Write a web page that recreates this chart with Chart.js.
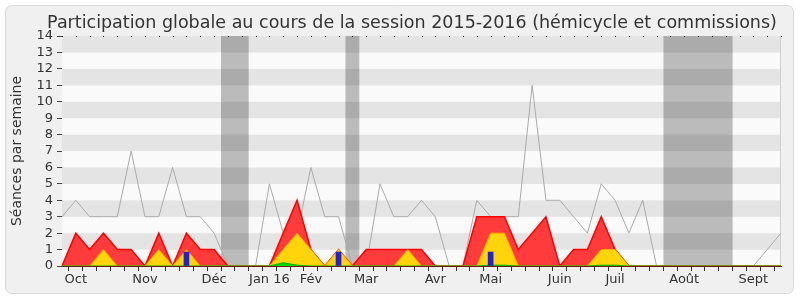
<!DOCTYPE html>
<html>
<head>
<meta charset="utf-8">
<script src="https://cdn.jsdelivr.net/npm/chart.js@4"></script>
<style>
  body { margin: 0; background: #fff; }
  #wrap { width: 800px; height: 300px; }
</style>
</head>
<body>
<div id="wrap"><canvas id="participation" width="800" height="300"></canvas></div>
<script>
// semaines de la session 2015-2016 (53 semaines)
const semaines = ['', 'Oct', '', '', '', '', 'Nov', '', '', '', '', 'Déc', '', '', '',
  'Jan 16', '', '', 'Fév', '', '', '', 'Mar', '', '', '', '', 'Avr', '', '', '',
  'Mai', '', '', '', '', 'Juin', '', '', '', 'Juil', '', '', '', '', 'Août', '', '', '', '',
  'Sept', '', ''];

const mediane = [3, 4, 3, 3, 3, 7, 3, 3, 6, 3, 3, 2, 0, 0, 0, 5, 2, 2, 6, 3, 3, 0, 0, 5, 3, 3, 4, 3,
  0, 0, 4, 3, 3, 3, 11, 4, 4, 3, 2, 5, 4, 2, 4, 0, 0, 0, 0, 0, 0, 0, 0, 1, 2];
const commission = [0, 2, 1, 2, 1, 1, 0, 2, 0, 2, 1, 1, 0, 0, 0, 0, 2, 4, 1, 0, 1, 0, 1, 1, 1, 1, 1, 0,
  0, 0, 3, 3, 3, 1, 2, 3, 0, 1, 1, 3, 1, 0, 0, 0, 0, 0, 0, 0, 0, 0, 0, 0, 0];
const hemicycle = [0, 0, 0, 1, 0, 0, 0, 1, 0, 1, 0, 0, 0, 0, 0, 0, 1, 2, 1, 0, 1, 0, 0, 0, 0, 1, 0, 0,
  0, 0, 0, 2, 2, 0, 0, 0, 0, 0, 0, 1, 1, 0, 0, 0, 0, 0, 0, 0, 0, 0, 0, 0, 0];
const interventions = [0, 0, 0, 0, 0, 0, 0, 0, 0, 0, 0, 0, 0, 0, 0, 0, 0.2, 0.05, 0, 0, 0, 0, 0, 0, 0, 0, 0, 0,
  0, 0, 0, 0.05, 0.05, 0, 0, 0, 0, 0, 0, 0.05, 0.05, 0, 0, 0, 0, 0, 0, 0, 0, 0, 0, 0, 0];
const questions = [null, null, null, null, null, null, null, null, null, 0.85, null, null, null, null, null,
  null, null, null, null, null, 0.85, null, null, null, null, null, null, null, null, null, null,
  0.85, null, null, null, null, null, null, null, null, null, null, null, null, null, null, null,
  null, null, null, null, null, null];
// vacances parlementaires (en semaines)
const vacances = [[11.5, 13.5], [20.5, 21.5], [43.5, 48.5]];
const graduations = [0, 1, 2, 3, 4, 5, 6, 7, 8, 9, 10, 11, 12, 13, 14];

const police = 'DejaVu Sans';

const decor = {
  id: 'decor',
  beforeDraw(chart) {
    const c = chart.ctx;
    c.save();
    c.fillStyle = '#f0f0f0';
    c.strokeStyle = '#d9d9d9';
    c.beginPath();
    c.roundRect(5.5, 5.5, 788, 288, 6);
    c.fill();
    c.stroke();
    c.restore();
  },
  beforeDatasetsDraw(chart) {
    const c = chart.ctx, a = chart.chartArea, x = chart.scales.x, y = chart.scales.y;
    c.save();
    for (let i = 0; i < graduations.length - 1; i++) {
      const y0 = y.getPixelForValue(graduations[i]), y1 = y.getPixelForValue(graduations[i + 1]);
      c.fillStyle = i % 2 === 0 ? '#fafafa' : '#e4e4e4';
      c.fillRect(a.left, y1, a.right - a.left, y0 - y1);
    }
    c.fillStyle = 'rgba(0,0,0,0.25)';
    vacances.forEach(([d, f]) => {
      const x0 = x.getPixelForValue(d), x1 = x.getPixelForValue(f);
      c.fillRect(x0, a.top, x1 - x0, a.bottom - a.top);
    });
    c.fillStyle = '#d0d0d0';
    c.fillRect(a.right - 1, a.top, 1, a.bottom - a.top);
    c.restore();
  },
  afterDraw(chart) {
    const c = chart.ctx, a = chart.chartArea, x = chart.scales.x;
    c.save();
    c.fillStyle = '#000';
    semaines.forEach((s, i) => {
      c.fillRect(Math.round(x.getPixelForValue(i)), a.top, 1, 1);
    });
    c.fillStyle = '#333';
    c.font = '17.5px ' + police;
    c.textAlign = 'center';
    c.textBaseline = 'alphabetic';
    c.fillText('Participation globale au cours de la session 2015-2016 (hémicycle et commissions)', 412, 28);
    c.restore();
  }
};

const ligne = (label, data, fond, bord, epaisseur) => ({
  type: 'line', label, data,
  backgroundColor: fond, borderColor: bord, borderWidth: epaisseur,
  fill: fond ? 'origin' : false, tension: 0, pointRadius: 0
});

new Chart(document.getElementById('participation'), {
  data: {
    labels: semaines,
    datasets: [
      { type: 'bar', label: 'Questions orales', data: questions, backgroundColor: '#2323cc', barThickness: 5 },
      ligne('Interventions', interventions, '#00dd00', '#00b000', 1),
      ligne('Hémicycle', hemicycle, '#ffd40a', '#ffae00', 1),
      ligne('Commission', commission, '#ff3b3b', '#ff0000', 1.5),
      ligne('Médiane', mediane, null, '#aaaaaa', 1)
    ]
  },
  plugins: [decor],
  options: {
    responsive: false,
    animation: false,
    layout: { padding: { left: 5, right: 19, top: 36, bottom: 5 } },
    plugins: { legend: { display: false }, tooltip: { enabled: false } },
    scales: {
      x: {
        offset: false,
        z: 1,
        grid: { drawOnChartArea: false, tickLength: 5, color: '#333' },
        border: { color: '#6a1c12' },
        ticks: { autoSkip: false, maxRotation: 0, padding: 1, color: '#333', font: { family: police, size: 13 } },
        afterFit(s) { s.height = 29; }
      },
      y: {
        min: 0, max: 14,
        grid: { drawOnChartArea: false, tickLength: 5, color: '#444' },
        border: { color: '#444' },
        ticks: { stepSize: 1, autoSkip: false, padding: 4, color: '#333', font: { family: police, size: 13 } },
        title: { display: true, text: 'Séances par semaine', color: '#333', font: { family: police, size: 14 }, padding: { top: 4, bottom: 0 } },
        afterFit(s) { s.width = 57; }
      }
    }
  }
});
</script>
</body>
</html>
